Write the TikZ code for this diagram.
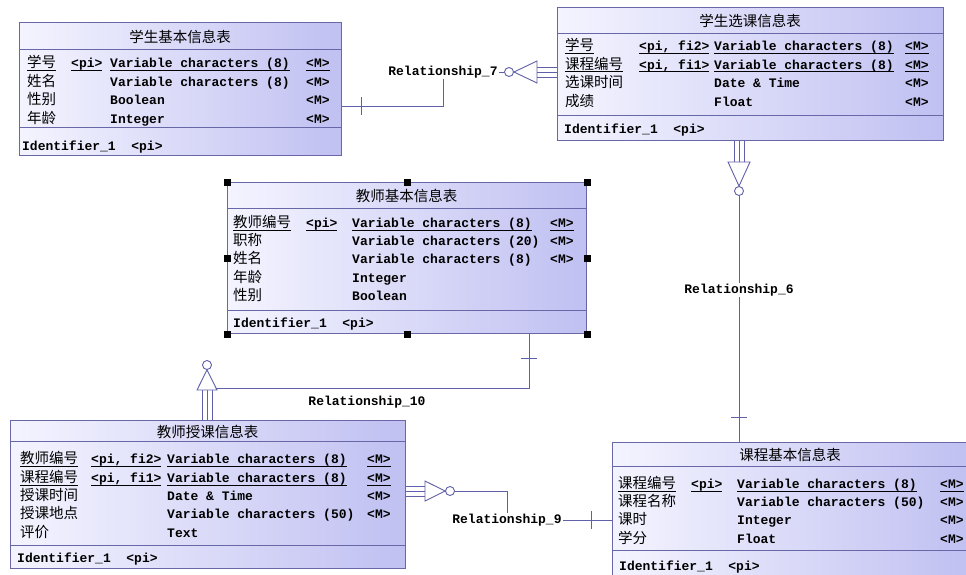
\documentclass[tikz,border=0pt]{standalone}
\usepackage{fontspec}
\setmainfont{Liberation Mono}
\newfontfamily\cjk{Noto Sans CJK SC}
\usetikzlibrary{calc}
\definecolor{erline}{RGB}{96,96,168}
\definecolor{erborder}{RGB}{104,104,168}
\definecolor{fillL}{RGB}{244,244,255}
\definecolor{fillR}{RGB}{192,192,242}
\newcommand\lat{\fontsize{13}{15}\selectfont\bfseries}
\newcommand\zh{\cjk\fontsize{14.5}{16}\selectfont}
\newcommand\myul[1]{\setbox0\hbox{#1}\rlap{\rule[-3pt]{\wd0}{0.8pt}}\box0}
\newcommand\ulc[2]{\if#1U\myul{#2}\else#2\fi}
\tikzset{
  tbox/.style={draw=erborder, line width=1pt, left color=fillL, right color=fillR, inner sep=0pt},
  cell/.style={inner sep=0pt, anchor=base west, text=black},
  ttl/.style={inner sep=0pt, anchor=center, text=black, font=\zh},
  div/.style={draw=erborder, line width=1pt},
  conn/.style={draw=erline, line width=0.9pt},
  card/.style={circle, draw=erline, line width=0.9pt, fill=white, minimum size=9pt, inner sep=0pt},
  rlabel/.style={inner sep=1pt, font=\lat, text=black},
  handle/.style={fill=black, minimum size=7pt, inner sep=0pt},
}
% #1 name #2 left #3 top #4 right #5 bottom #6 title div #7 attr div #8 title
\newcommand\ertable[8]{%
  \node[tbox, minimum width={#4-#2}, minimum height={#5-#3}, anchor=north west] (#1) at (#2,#3) {};
  \draw[div] (#2,#6) -- (#4,#6) (#2,#7) -- (#4,#7);
  \node[ttl] (#1title) at ({(#2+#4)/2},{(#3+#6)/2+1}) {#8};
}
\begin{document}
\begin{tikzpicture}[x=1pt,y=-1pt]
\useasboundingbox (0,0) rectangle (966,574);
\clip (0,0) rectangle (966,574);
\fill[white] (0,0) rectangle (966,574);

% ---------- Table 1
\ertable{t1}{19}{22}{341}{155}{49}{127}{学生基本信息表}
\foreach \u/\n/\k/\t/\m/\y [count=\i] in {
  U/学号/{<pi>}/Variable characters (8)/{<M>}/67.5,
  N/姓名//Variable characters (8)/{<M>}/86,
  N/性别//Boolean/{<M>}/104.5,
  N/年龄//Integer/{<M>}/123.5}{
  \node[cell] (t1n\i) at (27,\y) {\zh\ulc\u{\n}};
  \node[cell] (t1k\i) at (71,\y) {\lat\ulc\u{\k}};
  \node[cell] (t1t\i) at (110,\y) {\lat\ulc\u{\t}};
  \node[cell] (t1m\i) at (306,\y) {\lat\ulc\u{\m}};
}
\node[cell] (t1id) at (22,150.5) {\lat Identifier\_1~~<pi>};

% ---------- Table 2
\ertable{t2}{557}{7}{943}{140}{33}{115}{学生选课信息表}
\foreach \u/\n/\k/\t/\m/\y [count=\i] in {
  U/学号/{<pi, fi2>}/Variable characters (8)/{<M>}/50.5,
  U/课程编号/{<pi, fi1>}/Variable characters (8)/{<M>}/69,
  N/选课时间//Date \& Time/{<M>}/87.5,
  N/成绩//Float/{<M>}/106.5}{
  \node[cell] (t2n\i) at (565,\y) {\zh\ulc\u{\n}};
  \node[cell] (t2k\i) at (639,\y) {\lat\ulc\u{\k}};
  \node[cell] (t2t\i) at (714,\y) {\lat\ulc\u{\t}};
  \node[cell] (t2m\i) at (905,\y) {\lat\ulc\u{\m}};
}
\node[cell] (t2id) at (564,133) {\lat Identifier\_1~~<pi>};

% ---------- Table 3
\ertable{t3}{227}{182}{586}{333}{208}{310}{教师基本信息表}
\foreach \u/\n/\k/\t/\m/\y [count=\i] in {
  U/教师编号/{<pi>}/Variable characters (8)/{<M>}/227.5,
  N/职称//Variable characters (20)/{<M>}/245.5,
  N/姓名//Variable characters (8)/{<M>}/263.5,
  N/年龄//Integer//282.5,
  N/性别//Boolean//300.5}{
  \node[cell] (t3n\i) at (233,\y) {\zh\ulc\u{\n}};
  \node[cell] (t3k\i) at (306,\y) {\lat\ulc\u{\k}};
  \node[cell] (t3t\i) at (352,\y) {\lat\ulc\u{\t}};
  \node[cell] (t3m\i) at (550,\y) {\lat\ulc\u{\m}};
}
\node[cell] (t3id) at (233,327.5) {\lat Identifier\_1~~<pi>};

% ---------- Table 4
\ertable{t4}{10}{420}{405}{568}{441}{545}{教师授课信息表}
\foreach \u/\n/\k/\t/\m/\y [count=\i] in {
  U/教师编号/{<pi, fi2>}/Variable characters (8)/{<M>}/463.5,
  U/课程编号/{<pi, fi1>}/Variable characters (8)/{<M>}/482.5,
  N/授课时间//Date \& Time/{<M>}/500.5,
  N/授课地点//Variable characters (50)/{<M>}/518.5,
  N/评价//Text//537.5}{
  \node[cell] (t4n\i) at (20,\y) {\zh\ulc\u{\n}};
  \node[cell] (t4k\i) at (91,\y) {\lat\ulc\u{\k}};
  \node[cell] (t4t\i) at (167,\y) {\lat\ulc\u{\t}};
  \node[cell] (t4m\i) at (367,\y) {\lat\ulc\u{\m}};
}
\node[cell] (t4id) at (17,562.5) {\lat Identifier\_1~~<pi>};

% ---------- Table 5
\ertable{t5}{612}{442}{968}{580}{466}{550}{课程基本信息表}
\foreach \u/\n/\k/\t/\m/\y [count=\i] in {
  U/课程编号/{<pi>}/Variable characters (8)/{<M>}/488.5,
  N/课程名称//Variable characters (50)/{<M>}/506.5,
  N/课时//Integer/{<M>}/524.5,
  N/学分//Float/{<M>}/543.5}{
  \node[cell] (t5n\i) at (618,\y) {\zh\ulc\u{\n}};
  \node[cell] (t5k\i) at (691,\y) {\lat\ulc\u{\k}};
  \node[cell] (t5t\i) at (737,\y) {\lat\ulc\u{\t}};
  \node[cell] (t5m\i) at (940,\y) {\lat\ulc\u{\m}};
}
\node[cell] (t5id) at (619,570.5) {\lat Identifier\_1~~<pi>};

% ---------- Relationship_7
\node[rlabel] (r7) at (443,72) {Relationship\_7};
\coordinate (r7b) at (443,106);
\draw[conn] (t1.east |- r7b) -- (r7b) -- (r7.south);
\coordinate (r7k) at (361,106);
\draw[conn] ($(r7k)+(0,-9)$) -- ($(r7k)+(0,9)$);
\node[card] (r7c) at (509,72) {};
\draw[conn] (r7.east) -- (r7c.west);
\coordinate (r7t) at (537,72);
\draw[conn, fill=white] (r7c.east) -- ($(r7t)+(0,-11)$) -- ($(r7t)+(0,11)$) -- cycle;
\foreach \d in {-5,0,5} \draw[conn] ($(r7t)+(0,\d)$) -- ($(t2.west |- r7t)+(0,\d)$);

% ---------- Relationship_6
\node[rlabel] (r6) at (739,290) {Relationship\_6};
\coordinate (r6t) at (739,162);
\foreach \d in {-5,0,5} \draw[conn] ($(t2.south -| r6t)+(\d,0)$) -- ($(r6t)+(\d,0)$);
\node[card] (r6c) at (739,191) {};
\draw[conn, fill=white] (r6c.north) -- ($(r6t)+(-11,0)$) -- ($(r6t)+(11,0)$) -- cycle;
\draw[conn] (r6c.south) -- (r6.north);
\draw[conn] (r6.south) -- (t5.north -| r6);
\coordinate (r6k) at (739,417);
\draw[conn] ($(r6k)+(-8,0)$) -- ($(r6k)+(8,0)$);

% ---------- Relationship_10
\node[rlabel] (r10) at (367,402) {Relationship\_10};
\coordinate (r10t) at (207,390);
\foreach \d in {-5,0,5} \draw[conn] ($(t4.north -| r10t)+(\d,0)$) -- ($(r10t)+(\d,0)$);
\node[card] (r10c) at (207,365) {};
\draw[conn, fill=white] (r10c.south) -- ($(r10t)+(-10,0)$) -- ($(r10t)+(10,0)$) -- cycle;
\coordinate (r10b) at (529,388);
\coordinate (r10e) at (216,388);
\draw[conn] (t3.south -| r10b) -- (r10b) -- (r10e);
\coordinate (r10k) at (529,358);
\draw[conn] ($(r10k)+(-8,0)$) -- ($(r10k)+(8,0)$);

% ---------- Relationship_9
\node[rlabel] (r9) at (507,520) {Relationship\_9};
\coordinate (r9t) at (425,491);
\foreach \d in {-5,0,5} \draw[conn] ($(t4.east |- r9t)+(0,\d)$) -- ($(r9t)+(0,\d)$);
\node[card] (r9c) at (450,491) {};
\draw[conn, fill=white] (r9c.west) -- ($(r9t)+(0,-10)$) -- ($(r9t)+(0,10)$) -- cycle;
\coordinate (r9b) at (507,491);
\draw[conn] (r9c.east) -- (r9b) -- (r9.north);
\draw[conn] (r9.east) -- (t5.west |- r9.east);
\coordinate (r9k) at (591,520);
\draw[conn] ($(r9k)+(0,-9)$) -- ($(r9k)+(0,9)$);

% ---------- selection handles on table 3
\foreach \a [count=\i] in {north west, north, north east, west, east, south west, south, south east}
  \node[handle] (h\i) at (t3.\a) {};
\end{tikzpicture}
\end{document}
